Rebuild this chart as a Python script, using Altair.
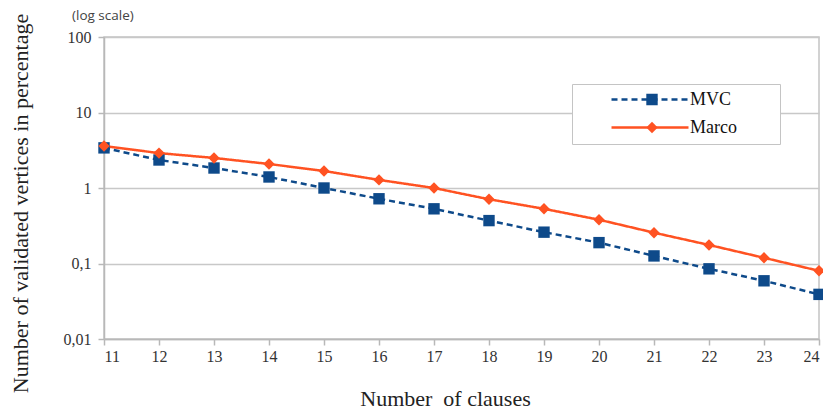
import altair as alt
import pandas as pd

clauses = list(range(11, 25))
mvc = [3.4, 2.35, 1.84, 1.4, 1.0, 0.72, 0.53, 0.37, 0.26, 0.189, 0.126, 0.085, 0.059, 0.039]
marco = [3.6, 2.9, 2.5, 2.08, 1.68, 1.28, 1.0, 0.71, 0.53, 0.38, 0.256, 0.176, 0.119, 0.080]
series_names = ["MVC", "Marco"]
series_colors = ["#0e4a8a", "#ff5222"]
y_tick_values = [0.01, 0.1, 1, 10, 100]
y_tick_labels = ["0,01", "0,1", "1", "10", "100"]

rows = []
for c, a, b in zip(clauses, mvc, marco):
    rows.append({"clauses": c, "value": a, "series": "MVC", "marker": "MVC"})
    rows.append({"clauses": c, "value": b, "series": "Marco", "marker": "Marco"})
df = pd.DataFrame(rows)

label_expr = " : ".join(
    f"datum.value == {v} ? '{l}'" for v, l in zip(y_tick_values, y_tick_labels)
) + " : ''"

serif = "Liberation Serif"

x_enc = alt.X(
    "clauses:Q",
    scale=alt.Scale(domain=[11, 24], nice=False, zero=False),
    axis=alt.Axis(
        values=clauses, format="d", grid=False, title="Number\u00a0 of clauses",
        titleX=341, titleY=66, titleBaseline="alphabetic", titleAnchor="middle",
        titleFontSize=22, labelPadding=3,
        labelFont=serif, labelFontSize=16, labelColor="#333",
    ),
)
y_enc = alt.Y(
    "value:Q",
    scale=alt.Scale(type="log", domain=[0.01, 100], nice=False),
    axis=alt.Axis(
        values=y_tick_values, labelExpr=label_expr, grid=True,
        title="Number of validated vertices in percentage",
        titleX=-84, titleY=166, titleBaseline="middle", titleAlign="center", titleAngle=270,
        titleFontSize=22, labelPadding=7,
        labelFont=serif, labelFontSize=16, labelColor="#333",
    ),
)

line_legend = alt.Legend(
    title=None, orient="none", legendX=468, legendY=47, direction="vertical",
    symbolType="stroke", symbolSize=5929, symbolStrokeWidth=2.5,
    clipHeight=17, rowPadding=9, padding=7,
    symbolOffset=31, labelOffset=0,
    labelExpr="datum.label + '\u2003\u2003\u200b'",
    strokeColor="#c4c4c4", fillColor="white",
)
marker_legend = alt.Legend(
    title=None, orient="none", legendX=468, legendY=47, direction="vertical",
    symbolSize=130, symbolStrokeWidth=0,
    clipHeight=17, rowPadding=9, padding=7,
    symbolOffset=64, labelOffset=2, labelExpr="''",
)

lines = alt.Chart(df).mark_line(strokeWidth=2.5).encode(
    x=x_enc,
    y=y_enc,
    color=alt.Color("series:N", scale=alt.Scale(domain=series_names, range=series_colors),
                    legend=line_legend),
    strokeDash=alt.StrokeDash("series:N", scale=alt.Scale(domain=series_names, range=[[6, 4], [1, 0]]),
                              legend=line_legend),
)

points = alt.Chart(df).mark_point(filled=True, opacity=1, size=130).encode(
    x=x_enc,
    y=y_enc,
    color=alt.Color("marker:N", scale=alt.Scale(domain=series_names, range=series_colors),
                    legend=marker_legend),
    shape=alt.Shape("marker:N", scale=alt.Scale(domain=series_names, range=["square", "diamond"]),
                    legend=marker_legend),
)

chart = alt.layer(lines, points).resolve_scale(
    color="independent", shape="independent", strokeDash="independent"
).properties(
    width=715, height=302,
    autosize=alt.AutoSizeParams(type="none"),
    padding={"left": 96, "top": 29, "right": 4, "bottom": 70},
    title=alt.TitleParams("(log scale)", anchor="start", frame="group", dx=-32, dy=9, offset=0,
                          fontSize=13.5, font="Open Sans", fontWeight="normal", color="#444"),
).configure(
    style={"guide-label": {"font": serif, "fontSize": 16}}
).configure_view(
    stroke="#c4c4c4", strokeWidth=1.5
).configure_axis(
    gridColor="#c8c8c8", gridWidth=1.5, domainColor="#b8b8b8", domainWidth=1.5,
    tickColor="#b8b8b8", tickWidth=1.5, tickSize=6,
    labelFont=serif, labelFontSize=16, labelColor="#333",
    titleFont=serif, titleFontWeight="normal", titleColor="#222",
).configure_legend(
    labelFont=serif, labelFontSize=18, labelColor="#111",
)

chart.save("out.html", embed_options={"renderer": "svg", "actions": False})
